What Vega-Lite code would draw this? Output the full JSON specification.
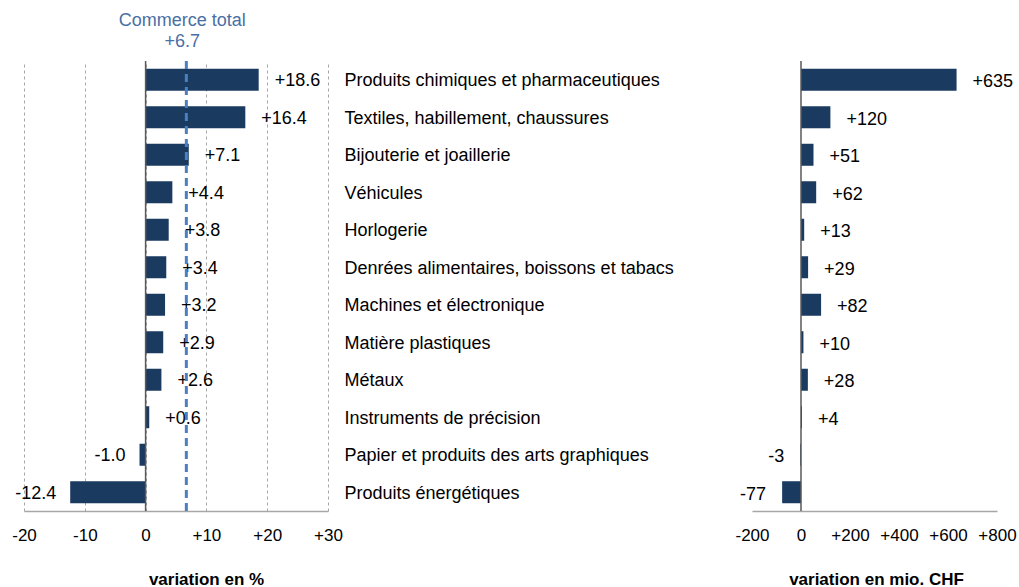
{
  "$schema": "https://vega.github.io/schema/vega-lite/v6.json",
  "width": 973,
  "height": 450,
  "autosize": {"type": "none"},
  "padding": {"left": 24, "top": 61, "right": 22, "bottom": 76},
  "background": "white",
  "config": {
    "view": {"stroke": null},
    "font": "Liberation Sans",
    "text": {"font": "Liberation Sans", "fontSize": 18},
    "axis": {
      "labelFont": "Liberation Sans",
      "titleFont": "Liberation Sans",
      "labelFontSize": 17,
      "labelColor": "#000000",
      "titleColor": "#000000",
      "titleFontSize": 17,
      "titleFontWeight": "bold"
    },
    "axisX": {
      "grid": true,
      "gridDash": [3, 3],
      "gridColor": "#a6a6a6",
      "gridWidth": 1,
      "domainColor": "#a6a6a6",
      "domainWidth": 1.5,
      "ticks": false,
      "tickSize": 0,
      "labelPadding": 16,
      "labelFlush": false,
      "labelOverlap": false,
      "labelBaseline": "top"
    }
  },
  "data": {
    "values": [
      {"cat": "Produits chimiques et pharmaceutiques", "pct": 18.6, "chf": 635},
      {"cat": "Textiles, habillement, chaussures", "pct": 16.4, "chf": 120},
      {"cat": "Bijouterie et joaillerie", "pct": 7.1, "chf": 51},
      {"cat": "Véhicules", "pct": 4.4, "chf": 62},
      {"cat": "Horlogerie", "pct": 3.8, "chf": 13},
      {"cat": "Denrées alimentaires, boissons et tabacs", "pct": 3.4, "chf": 29},
      {"cat": "Machines et électronique", "pct": 3.2, "chf": 82},
      {"cat": "Matière plastiques", "pct": 2.9, "chf": 10},
      {"cat": "Métaux", "pct": 2.6, "chf": 28},
      {"cat": "Instruments de précision", "pct": 0.6, "chf": 4},
      {"cat": "Papier et produits des arts graphiques", "pct": -1.0, "chf": -3},
      {"cat": "Produits énergétiques", "pct": -12.4, "chf": -77}
    ]
  },
  "layer": [
    {
      "layer": [
        {
          "mark": {"type": "bar", "color": "#1b3a5f"},
          "encoding": {
            "y": {
              "field": "cat", "type": "nominal", "sort": null, "title": null,
              "scale": {"paddingInner": 0.413, "paddingOuter": 0.207},
              "axis": {
                "orient": "left", "domain": false, "ticks": false, "tickSize": 0, "grid": false,
                "labelAlign": "left", "labelPadding": -320, "labelBaseline": "middle", "labelOffset": 1.5,
                "labelLimit": 600, "labelFontSize": 18, "labelColor": "#000000"
              }
            },
            "x": {
              "field": "pct", "type": "quantitative", "title": "variation en %",
              "scale": {"domain": [-20, 30], "range": [0, 304], "nice": false, "zero": false},
              "axis": {
                "orient": "bottom",
                "values": [-20, -10, 0, 10, 20, 30],
                "labelExpr": "datum.value > 0 ? '+' + datum.value : '' + datum.value",
                "titleX": 182, "titleY": 73, "titleBaseline": "alphabetic", "titleAlign": "center"
              }
            }
          }
        },
        {
          "transform": [
            {"filter": "datum.pct >= 0"},
            {"calculate": "'+' + format(datum.pct, '.1f')", "as": "lbl"}
          ],
          "mark": {"type": "text", "align": "left", "baseline": "middle", "dx": 16, "dy": 1.5, "fontSize": 18, "color": "#000000"},
          "encoding": {
            "y": {"field": "cat", "type": "nominal", "sort": null, "title": null},
            "x": {"field": "pct", "type": "quantitative", "title": "variation en %"},
            "text": {"field": "lbl"}
          }
        },
        {
          "transform": [
            {"filter": "datum.pct < 0"},
            {"calculate": "'-' + format(abs(datum.pct), '.1f')", "as": "lbl"}
          ],
          "mark": {"type": "text", "align": "right", "baseline": "middle", "dx": -14, "dy": 1.5, "fontSize": 18, "color": "#000000"},
          "encoding": {
            "y": {"field": "cat", "type": "nominal", "sort": null, "title": null},
            "x": {"field": "pct", "type": "quantitative", "title": "variation en %"},
            "text": {"field": "lbl"}
          }
        },
        {
          "data": {"values": [{"zero": 0}]},
          "mark": {"type": "rule", "color": "#595959", "strokeWidth": 1.5},
          "encoding": {
            "x": {"field": "zero", "type": "quantitative", "title": "variation en %"}
          }
        },
        {
          "data": {"values": [{"name": "Commerce total", "total": 6.7}]},
          "mark": {"type": "rule", "color": "#4a7fc1", "strokeWidth": 3, "strokeDash": [8, 5]},
          "encoding": {
            "x": {"field": "total", "type": "quantitative", "title": "variation en %"}
          }
        },
        {
          "data": {"values": [{"name": "Commerce total", "total": 6.7}]},
          "transform": [
            {"calculate": "[datum.name, '+' + format(datum.total, '.1f')]", "as": "lbl"}
          ],
          "mark": {"type": "text", "align": "center", "baseline": "bottom", "dx": -4, "dy": -31, "lineHeight": 21, "fontSize": 18, "color": "#4a6fa5"},
          "encoding": {
            "x": {"field": "total", "type": "quantitative", "title": "variation en %"},
            "y": {"value": 0},
            "text": {"field": "lbl"}
          }
        }
      ]
    },
    {
      "layer": [
        {
          "mark": {"type": "bar", "color": "#1b3a5f"},
          "encoding": {
            "y": {"field": "cat", "type": "nominal", "sort": null, "title": null},
            "x": {
              "field": "chf", "type": "quantitative", "title": "variation en mio. CHF",
              "scale": {"domain": [-200, 800], "range": [728, 973], "nice": false, "zero": false},
              "axis": {
                "orient": "bottom",
                "values": [-200, 0, 200, 400, 600, 800],
                "labelExpr": "datum.value > 0 ? '+' + datum.value : '' + datum.value",
                "titleX": 852, "titleY": 73, "titleBaseline": "alphabetic", "titleAlign": "center"
              }
            }
          }
        },
        {
          "transform": [
            {"filter": "datum.chf >= 0"},
            {"calculate": "'+' + format(datum.chf, 'd')", "as": "lbl"}
          ],
          "mark": {"type": "text", "align": "left", "baseline": "middle", "dx": 16, "dy": 2.5, "fontSize": 18, "color": "#000000"},
          "encoding": {
            "y": {"field": "cat", "type": "nominal", "sort": null, "title": null},
            "x": {"field": "chf", "type": "quantitative", "title": "variation en mio. CHF"},
            "text": {"field": "lbl"}
          }
        },
        {
          "transform": [
            {"filter": "datum.chf < 0"},
            {"calculate": "'-' + format(abs(datum.chf), 'd')", "as": "lbl"}
          ],
          "mark": {"type": "text", "align": "right", "baseline": "middle", "dx": -16, "dy": 2.5, "fontSize": 18, "color": "#000000"},
          "encoding": {
            "y": {"field": "cat", "type": "nominal", "sort": null, "title": null},
            "x": {"field": "chf", "type": "quantitative", "title": "variation en mio. CHF"},
            "text": {"field": "lbl"}
          }
        },
        {
          "data": {"values": [{"zero": 0}]},
          "mark": {"type": "rule", "color": "#595959", "strokeWidth": 1.5},
          "encoding": {
            "x": {"field": "zero", "type": "quantitative", "title": "variation en mio. CHF"}
          }
        }
      ]
    }
  ],
  "resolve": {"scale": {"x": "independent"}, "axis": {"x": "independent"}}
}
